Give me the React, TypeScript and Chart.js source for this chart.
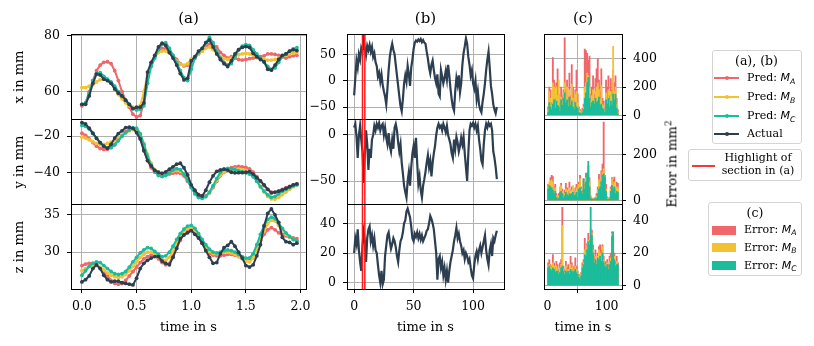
import React, { useEffect, useRef } from 'react';
import { Chart, registerables } from 'chart.js';
Chart.register(...registerables);

const W = 814, H = 346;
const FONT = "'DejaVu Serif', serif";
const SANS = "'DejaVu Sans', sans-serif";
const C_A = '#f0666a', C_B = '#f2c234', C_C = '#1abc9c', C_ACT = '#2c3e50', C_HL = '#ff1a1a';

// ---------- time axes ----------
const timeA = Array.from({ length: 60 }, (_, i) => i / 30);
const timeB = Array.from({ length: 121 }, (_, i) => i);
const binC = Array.from({ length: 60 }, (_, i) => 2 * i + 1);

// ---------- panel (a): 2 s section ----------
const aX_A = [55,56,60,64,67.5,69.5,70.5,70.7,70,67.5,64,60,57,54.5,52,51,51.5,56,65,70,72.5,74.5,75.5,75.3,74,73,71.5,70,69.2,69.5,71.5,72,73.5,74.5,76,77,76.7,76,74,73,72,72.5,72,71.5,71.3,71.5,71.8,72,72.2,72.5,72.8,73.5,73.5,73.3,73,72.5,72,72.5,72.8,73];
const aX_B = [61.5,61.5,62,62.5,63.5,64.3,64.5,64,63,61,59,57.5,56,55,54.5,54,55,60,66,70,72.5,74,74.5,74.5,74,72.5,71,69.8,69.5,70,71.5,72.5,73.5,74.5,75.5,76,75,73.8,72.5,71.8,71.5,72,72.5,73.2,73.5,73.7,73.5,73,72.5,72,71.5,71.3,71.3,71.5,72,72.5,73,73.5,73.8,74];
const aX_C = [55.5,56,59.5,64,66.5,66.8,65.5,64.5,63.5,62,60,58.5,57,55.5,54,53.5,53.8,55,63,69,72,75,77,77.5,75.5,73,70.5,67.5,65,64,68,72,74,75.5,77.5,79.4,77.5,74.5,72,70.5,69.5,70,72.5,75,76.3,76.8,76.5,75,73.5,72,70.5,69,68,68.5,70.5,72.5,73.5,74.5,75.3,75.7];
const aX_act = [55.5,55.5,58.5,63,66.3,66,64.5,64,63,61,59.5,58.5,57,55.5,54,54.5,54.5,56,67,70.5,73,76,77.3,76.5,74,72,69.5,66.5,64.2,64.8,71,72.5,74.5,75.5,77.5,78.5,76,73.5,71.5,70,69,71,73.5,75,75.8,76.1,75.8,73.7,72.5,71.5,70.7,68,67.7,69.5,71.5,73,73.5,74.5,75,74.7];

const aY_A = [-18.3,-19.5,-21.5,-23.5,-25.5,-26.8,-27.3,-27.2,-26.3,-24.5,-22,-19.5,-17.5,-16.2,-15.8,-17,-21,-27.5,-33.5,-37.5,-40,-41.3,-41.6,-41.5,-41,-40.5,-40.3,-40.6,-42,-45,-48,-50.5,-52.3,-53.2,-53,-51.5,-48.5,-45,-42,-40,-38.5,-37.5,-37,-36.8,-37,-37.3,-38.2,-40,-42.5,-45,-47.5,-49.5,-51,-51.3,-50.5,-49.5,-48.5,-47.8,-47,-46.5];
const aY_B = [-20.5,-21,-22,-23,-24,-24.5,-24.5,-24,-23.3,-22.3,-21,-19.5,-18,-17,-16.3,-16.8,-19,-24,-30,-35,-38.5,-40,-40.5,-40.5,-40,-39.3,-39,-39.5,-41,-44,-47.5,-51,-53.3,-54,-53.5,-51.5,-48,-44.5,-41.5,-39.8,-39,-38.5,-38.3,-38.3,-38.5,-39,-40,-42,-45,-48,-51,-53.5,-54.8,-55,-54,-52.5,-51,-49.5,-48,-47];
const aY_C = [-14,-14.5,-16,-18.5,-21,-23.5,-25.5,-26.5,-26.3,-24.8,-22.5,-20,-18,-16.5,-15.2,-15.5,-18.5,-24.5,-31,-36,-39.5,-41.8,-42.4,-41.8,-40.3,-38.8,-38,-38.5,-41,-44.5,-48.5,-52,-54,-54.5,-53.5,-51,-47.5,-43.5,-40,-38.3,-37.8,-38,-38.5,-39.2,-39.8,-40.3,-41,-42.5,-45,-48,-50.5,-52.5,-53.9,-53.5,-52,-50.5,-49.5,-48.5,-47.5,-47];
const aY_act = [-12.4,-13.2,-15.5,-18.3,-21.1,-23.5,-25.5,-26.7,-24.5,-21,-18.5,-17,-15.2,-15,-15.6,-18,-21.5,-28,-33.5,-36.5,-39,-40,-40.6,-39.8,-38.3,-37,-35.5,-35,-37.5,-41.5,-47,-50,-52.5,-53.2,-50,-45.5,-42,-39.5,-38.7,-38.3,-38.8,-40,-40.3,-40.2,-40.2,-40,-39.7,-41,-43,-44.8,-47,-49.5,-51.5,-51,-50.5,-49.8,-49,-48,-47,-46.5];

const aZ_A = [28.2,28.4,28.5,28.5,28.3,27.9,27.4,26.8,26.2,25.8,25.7,25.8,26.2,26.8,27.4,28,28.6,29.1,29.4,29.6,29.5,29.1,28.6,28.3,28.5,29.5,30.6,31.6,32.4,32.9,33.1,32.8,32.1,31.2,30.4,29.8,29.6,29.5,29.5,29.6,29.7,29.7,29.6,29.4,29.3,29.1,29.2,29.7,30.6,31.6,32.4,33,33.3,33,32.6,32.4,32.2,32,31.9,31.8];
const aZ_B = [27.5,27.8,28.1,28.2,28.2,28,27.6,27.2,26.9,26.7,26.6,26.7,27,27.5,28.1,28.7,29.3,29.7,30,30,29.7,29.3,29,28.9,29.3,30.2,31.2,32.1,32.8,33.2,33.3,32.9,32.2,31.4,30.7,30.1,29.8,29.8,29.9,30,30,29.9,29.7,29.4,29.1,28.8,28.7,29.2,30.3,31.6,32.8,33.8,34.3,34.2,33.6,33,32.4,32,31.7,31.5];
const aZ_C = [26.9,27.5,28.1,28.5,28.7,28.6,28.2,27.8,27.4,27.1,27,27.1,27.4,28,28.7,29.3,29.9,30.3,30.6,30.5,30.1,29.7,29.4,29.5,30,30.8,31.7,32.5,33.1,33.5,33.6,33.2,32.5,31.7,31,30.4,30,29.9,30,30.2,30.3,30.2,30,29.7,29.4,29.2,29.2,29.8,31,32.4,33.6,34.4,34.7,34.5,33.9,33.2,32.6,32.1,31.7,31.5];
const aZ_act = [26,26.3,26.8,27.8,28.3,27.8,26.9,26.3,26,26.1,26.1,25.9,25.8,25.7,25.6,26.5,27.8,28.5,28.9,29.2,29.4,29.4,28.8,28.5,28.3,29.3,30.5,31.8,32.3,32.6,32.9,32.4,31.9,31.2,30.2,29.3,28.5,28.6,29.8,30.6,30.9,31.4,30.8,30,29.2,28.2,28,28.3,29.5,31,33.5,35.2,35.8,35,34,32,31.4,31.3,31,31.2];

// ---------- panel (b): whole recording (actual), 1 value per second ----------
const bX_act = [-28,5,38,25,50,40,62,55,78,60,48,66,58,68,55,64,45,52,35,28,8,15,-2,12,-8,-20,-30,-45,-15,20,45,60,70,58,50,30,10,-10,-30,-48,-58,-35,-5,10,-2,28,12,-10,25,40,60,72,76,74,78,75,79,73,77,72,70,55,42,25,14,30,38,20,5,-5,12,-25,-30,20,8,-5,5,18,2,30,10,-15,-35,-50,-57,-20,5,-8,10,-22,-5,30,52,65,80,70,45,30,10,20,-5,-15,0,-35,-20,-45,-55,-60,-40,-25,-5,20,40,55,25,-10,-25,-45,-55,-62,-50];
const bY_act = [8,12,-2,-25,0,10,-5,-18,-52,-20,5,-10,-38,-15,-25,-5,0,10,5,12,8,13,5,10,12,0,8,-3,-10,2,-12,-18,-5,-15,8,12,5,-8,-18,-10,-30,-42,-55,-62,-68,-50,-40,-55,-35,-20,-12,-25,-3,-30,-53,-45,-60,-68,-55,-48,-40,-30,-22,-35,-28,-45,-30,-20,-12,0,8,12,8,10,5,12,8,3,10,0,-5,-10,-20,-25,-5,-15,-2,-8,-18,-12,-3,-10,-2,-20,-35,-50,-20,5,12,10,13,8,12,5,10,-5,-15,-28,-32,-10,5,12,8,13,10,12,5,-18,-25,-35,-48];
const bZ_act = [20,30,26,36,22,14,8,25,34,28,14,30,36,38,28,32,25,30,22,20,12,5,0,8,-1,2,18,25,32,34,28,23,26,30,28,24,18,14,22,28,30,34,40,42,48,50,47,44,38,30,28,33,31,34,30,33,29,32,28,30,32,35,36,40,45,43,40,36,28,20,2,16,18,10,14,5,10,2,8,0,8,14,18,22,28,32,37,30,33,28,25,20,22,16,20,18,14,16,10,5,3,12,18,21,16,22,25,20,24,28,32,22,16,12,22,26,18,30,28,32,35];
const highlightSec = [7, 9];

// ---------- panel (c): squared error per 2 s bin ----------
const cX_A = [60,200,180,90,410,250,120,230,330,150,90,200,140,180,550,180,250,130,300,140,360,200,100,180,320,150,60,40,30,50,80,470,460,440,390,420,150,200,280,150,260,330,400,250,170,330,120,100,60,250,200,280,140,260,180,320,230,280,120,40];
const cX_B = [40,170,120,70,230,200,90,200,140,250,60,130,100,160,230,120,200,90,180,100,220,120,70,150,170,90,40,30,20,30,60,200,230,300,280,200,100,140,180,110,170,200,230,180,110,210,80,70,40,160,120,180,100,170,130,490,170,200,80,20];
const cX_C = [20,90,60,40,80,110,50,100,70,60,30,110,70,120,160,90,110,60,130,70,100,60,40,90,60,50,20,15,10,20,40,120,160,230,270,120,60,90,100,80,120,90,100,130,70,80,50,40,20,110,80,120,60,100,70,150,110,150,50,10];
const cY_A = [70,60,100,110,105,60,70,30,15,30,55,75,50,25,45,75,55,40,80,45,60,50,40,55,70,30,80,110,60,45,95,70,120,115,150,100,20,10,8,10,12,30,60,115,90,130,160,345,110,70,15,10,12,60,100,90,102,50,80,75];
const cY_B = [60,80,85,90,80,45,55,20,10,20,60,65,40,20,30,50,45,30,55,40,45,65,30,40,55,20,70,95,50,35,90,60,100,95,130,80,15,8,6,8,8,20,45,90,70,100,125,139,90,50,10,8,8,50,95,70,80,40,60,55];
const cY_C = [50,65,60,55,45,30,40,12,5,10,35,40,30,10,20,35,25,20,30,25,30,35,20,25,35,15,50,55,40,30,95,50,80,120,172,60,10,5,4,5,6,10,30,50,60,80,110,117,102,40,5,4,5,40,66,50,60,30,40,35];
const cZ_A = [14,16,13,12,19,14,11,15,13,10,14,16,48,12,10,15,11,13,9,18,14,10,12,17,12,9,7,6,8,14,16,29,22,26,32,28,30,34,25,18,22,15,20,24,25,22,25,18,15,14,16,13,18,20,33,30,20,15,18,14];
const cZ_B = [12,13,12,11,14,12,9,12,10,8,11,13,37,10,8,12,9,10,8,13,11,9,10,12,10,8,6,5,7,12,14,22,20,24,28,26,35,32,22,15,18,14,18,22,20,18,24,16,13,12,14,11,15,17,32,28,18,13,15,12];
const cZ_C = [11,12,10,9,11,10,8,9,9,7,8,11,12,9,7,9,8,9,7,10,9,8,9,10,8,7,5,4,6,11,13,19,18,22,27,25,48,31,20,14,16,13,17,16,18,15,20,14,12,11,13,10,13,15,30,33,16,12,13,13];

// ---------- layout ----------
const COLS: Record<string, number[]> = { a: [71, 306], b: [347, 504], c: [544, 622] };
const ROWS = [[34, 119.5], [119.5, 204.5], [204.5, 289]];

function fmtNum(v: number, dec: number) {
  const s = Math.abs(v).toFixed(dec);
  return v < 0 ? '\u2212' + s : s;
}

const lineDs = (xs: number[], ys: number[], color: string, order: number, width: number, radius: number) => ({
  data: ys.map((y, i) => ({ x: xs[i], y })),
  borderColor: color, backgroundColor: color, borderWidth: width,
  pointRadius: radius, pointBackgroundColor: color, pointBorderWidth: 0, pointHoverRadius: 0,
  tension: 0, order, fill: false,
});
const barDs = (ys: number[], color: string, order: number) => ({
  data: ys.map((y, i) => ({ x: binC[i], y })),
  backgroundColor: color, borderWidth: 0, grouped: false,
  barPercentage: 1, categoryPercentage: 1, order,
});

interface Spec {
  col: string; row: number; type: 'line' | 'bar'; datasets: any[];
  xmin: number; xmax: number; ymin: number; ymax: number;
  xticks: number[]; yticks: number[]; xdec: number; hl?: number[];
}

function buildConfig(p: Spec) {
  const [L, R] = COLS[p.col];
  const [T, B] = ROWS[p.row];
  const bottomRow = p.row === 2;
  const yRight = p.col === 'c';
  const YW = 50, XH = 40;
  const padding = {
    left: yRight ? L : L - YW,
    right: yRight ? W - R - YW : W - R,
    top: T,
    bottom: bottomRow ? H - B - XH : H - B,
  };
  const tickFont = { family: FONT, size: 12.5 };
  const zero = (s: any) => { s.paddingLeft = 0; s.paddingRight = 0; s.paddingTop = 0; s.paddingBottom = 0; };
  const plugin = {
    id: 'frameHl',
    afterDatasetsDraw(chart: any) {
      if (!p.hl) return;
      const { ctx, chartArea: a } = chart;
      ctx.save();
      ctx.strokeStyle = C_HL; ctx.lineWidth = 1.5;
      p.hl.forEach((v) => {
        const px = chart.scales.x.getPixelForValue(v);
        ctx.beginPath(); ctx.moveTo(px, a.top); ctx.lineTo(px, a.bottom); ctx.stroke();
      });
      ctx.restore();
    },
    afterDraw(chart: any) {
      const { ctx, chartArea: a } = chart;
      ctx.save();
      ctx.strokeStyle = '#000'; ctx.lineWidth = 1;
      const l = Math.floor(a.left) + 0.5, r = Math.floor(a.right) + 0.5;
      const t = Math.floor(a.top) + 0.5, b = Math.floor(a.bottom) + 0.5;
      ctx.strokeRect(l, t, r - l, b - t);
      ctx.restore();
    },
  };
  return {
    type: p.type,
    data: { datasets: p.datasets },
    options: {
      animation: false, responsive: false, devicePixelRatio: 1, events: [],
      layout: { padding },
      plugins: { legend: { display: false }, tooltip: { enabled: false } },
      scales: {
        x: {
          type: 'linear', min: p.xmin, max: p.xmax, offset: false, position: 'bottom',
          afterBuildTicks: (s: any) => { s.ticks = p.xticks.map((v) => ({ value: v })); },
          afterFit: (s: any) => { s.height = bottomRow ? XH : 0; zero(s); },
          grid: { color: '#b0b0b0', lineWidth: 1, drawTicks: bottomRow, tickLength: 4, tickColor: '#000', tickWidth: 1 },
          border: { display: false },
          ticks: {
            display: bottomRow, autoSkip: false, maxRotation: 0, minRotation: 0, padding: 6,
            color: '#000', font: tickFont, callback: (v: any) => fmtNum(Number(v), p.xdec),
          },
        },
        y: {
          type: 'linear', position: yRight ? 'right' : 'left', min: p.ymin, max: p.ymax,
          afterBuildTicks: (s: any) => { s.ticks = p.yticks.map((v) => ({ value: v })); },
          afterFit: (s: any) => { s.width = YW; zero(s); },
          grid: { color: '#b0b0b0', lineWidth: 1, drawTicks: true, tickLength: 4, tickColor: '#000', tickWidth: 1 },
          border: { display: false },
          ticks: { autoSkip: false, padding: 7, color: '#000', font: tickFont, callback: (v: any) => fmtNum(Number(v), 0) },
        },
      },
    },
    plugins: [plugin],
  };
}

const aLines = (A: number[], Bv: number[], Cv: number[], act: number[]) => [
  lineDs(timeA, A, C_A, 3, 2, 1.9),
  lineDs(timeA, Bv, C_B, 2, 2, 1.9),
  lineDs(timeA, Cv, C_C, 1, 2, 1.9),
  lineDs(timeA, act, C_ACT, 0, 2, 1.9),
];
const aBase = { col: 'a', type: 'line' as const, xmin: -0.1, xmax: 2.05, xticks: [0, 0.5, 1, 1.5, 2], xdec: 1 };
const bBase = { col: 'b', type: 'line' as const, xmin: -6, xmax: 126, xticks: [0, 50, 100], xdec: 0, hl: highlightSec };
const cBase = { col: 'c', type: 'bar' as const, xmin: -6, xmax: 126, xticks: [0, 100], xdec: 0 };

const SPECS: Spec[] = [
  { ...aBase, row: 0, datasets: aLines(aX_A, aX_B, aX_C, aX_act), ymin: 50.1, ymax: 80.6, yticks: [60, 80] },
  { ...aBase, row: 1, datasets: aLines(aY_A, aY_B, aY_C, aY_act), ymin: -57.9, ymax: -10.7, yticks: [-40, -20] },
  { ...aBase, row: 2, datasets: aLines(aZ_A, aZ_B, aZ_C, aZ_act), ymin: 25.05, ymax: 36.4, yticks: [30, 35] },
  { ...bBase, row: 0, datasets: [lineDs(timeB, bX_act, C_ACT, 0, 2.2, 0)], ymin: -73.7, ymax: 88.5, yticks: [-50, 0, 50] },
  { ...bBase, row: 1, datasets: [lineDs(timeB, bY_act, C_ACT, 0, 2.2, 0)], ymin: -75.5, ymax: 16.8, yticks: [-50, 0] },
  { ...bBase, row: 2, datasets: [lineDs(timeB, bZ_act, C_ACT, 0, 2.2, 0)], ymin: -4.2, ymax: 52.7, yticks: [0, 20, 40] },
  { ...cBase, row: 0, datasets: [barDs(cX_A, C_A, 3), barDs(cX_B, C_B, 2), barDs(cX_C, C_C, 1)], ymin: -30, ymax: 577, yticks: [0, 200, 400] },
  { ...cBase, row: 1, datasets: [barDs(cY_A, C_A, 3), barDs(cY_B, C_B, 2), barDs(cY_C, C_C, 1)], ymin: -18.5, ymax: 356.6, yticks: [0, 200] },
  { ...cBase, row: 2, datasets: [barDs(cZ_A, C_A, 3), barDs(cZ_B, C_B, 2), barDs(cZ_C, C_C, 1)], ymin: -2, ymax: 49.7, yticks: [0, 20, 40] },
];

function ChartCanvas({ spec }: { spec: Spec }) {
  const ref = useRef<HTMLCanvasElement>(null);
  useEffect(() => {
    const chart = new Chart(ref.current as HTMLCanvasElement, buildConfig(spec) as any);
    return () => chart.destroy();
  }, [spec]);
  return <canvas ref={ref} width={W} height={H} style={{ position: 'absolute', left: 0, top: 0, width: W, height: H }} />;
}

function Txt({ x, y, size, rot, children, align }: any) {
  return (
    <div style={{
      position: 'absolute', left: x, top: y, whiteSpace: 'nowrap', lineHeight: 1.15,
      transform: `translate(${align === 'left' ? '0' : '-50%'},-50%)${rot ? ' rotate(-90deg)' : ''}`,
      fontFamily: FONT, fontSize: size, color: '#000', textAlign: 'center',
    }}>{children}</div>
  );
}

const M = ({ s }: { s: string }) => (
  <span style={{ fontFamily: SANS }}>
    <i>M</i><span style={{ fontSize: '0.7em', position: 'relative', top: '0.3em', fontStyle: 'italic' }}>{s}</span>
  </span>
);

const LEG_FS = 11;

function LegendLines() {
  const items: [React.ReactNode, string, number][] = [
    [<>Pred: <M s="A" /></>, C_A, 78.3],
    [<>Pred: <M s="B" /></>, C_B, 97.3],
    [<>Pred: <M s="C" /></>, C_C, 116.3],
    [<>Actual</>, C_ACT, 134.3],
  ];
  return (
    <>
      <div style={{ position: 'absolute', left: 711.5, top: 50, width: 90, height: 94, border: '1px solid #d4d4d4', borderRadius: 3, background: 'rgba(255,255,255,0.85)', boxSizing: 'border-box' }} />
      <Txt x={756.5} y={60.7} size={12.5}>(a), (b)</Txt>
      {items.map(([label, color, y], i) => (
        <React.Fragment key={i}>
          <div style={{ position: 'absolute', left: 714, top: y - 1, width: 25, height: 2, background: color }} />
          <div style={{ position: 'absolute', left: 724.5, top: y - 2, width: 4, height: 4, borderRadius: '50%', background: color }} />
          <Txt x={747} y={y} size={LEG_FS} align="left">{label}</Txt>
        </React.Fragment>
      ))}
    </>
  );
}

function LegendHighlight() {
  return (
    <>
      <div style={{ position: 'absolute', left: 687.5, top: 149.3, width: 114, height: 32, border: '1px solid #d4d4d4', borderRadius: 3, background: 'rgba(255,255,255,0.85)', boxSizing: 'border-box' }} />
      <div style={{ position: 'absolute', left: 692, top: 165, width: 23, height: 2, backgroundColor: '#f23a3a' }} />
      <Txt x={758} y={165.2} size={LEG_FS}>Highlight of<br />section in (a)</Txt>
    </>
  );
}

function LegendBars() {
  const items: [string, string, number][] = [['A', C_A, 230], ['B', C_B, 247.7], ['C', C_C, 265.7]];
  return (
    <>
      <div style={{ position: 'absolute', left: 707.5, top: 202.3, width: 94, height: 74, border: '1px solid #d4d4d4', borderRadius: 3, background: 'rgba(255,255,255,0.85)', boxSizing: 'border-box' }} />
      <Txt x={755} y={213.3} size={12.5}>(c)</Txt>
      {items.map(([s, color, y]) => (
        <React.Fragment key={s}>
          <div style={{ position: 'absolute', left: 711.7, top: y - 4.5, width: 24, height: 9, background: color }} />
          <Txt x={744} y={y} size={LEG_FS} align="left">Error: <M s={s} /></Txt>
        </React.Fragment>
      ))}
    </>
  );
}

export default function App() {
  return (
    <div style={{ position: 'absolute', left: 0, top: 0, width: W, height: H, background: '#fff', overflow: 'hidden' }}>
      {SPECS.map((s, i) => <ChartCanvas key={i} spec={s} />)}
      <Txt x={188.5} y={19} size={15}>(a)</Txt>
      <Txt x={425.5} y={19} size={15}>(b)</Txt>
      <Txt x={583} y={19} size={15}>(c)</Txt>
      <Txt x={188.5} y={326.7} size={13}>time in s</Txt>
      <Txt x={425.5} y={326.7} size={13}>time in s</Txt>
      <Txt x={583} y={326.7} size={13}>time in s</Txt>
      <Txt x={19} y={76.75} size={13} rot>x in mm</Txt>
      <Txt x={19} y={162} size={13} rot>y in mm</Txt>
      <Txt x={19} y={246.75} size={13} rot>z in mm</Txt>
      <Txt x={672} y={164} size={13} rot>Error in mm<sup style={{ fontSize: '0.7em' }}>2</sup></Txt>
      <LegendLines />
      <LegendHighlight />
      <LegendBars />
    </div>
  );
}
